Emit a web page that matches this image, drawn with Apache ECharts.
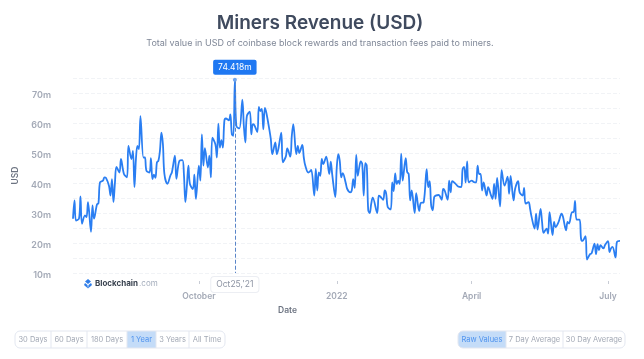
<!DOCTYPE html>
<html>
<head>
<meta charset="utf-8">
<title>Miners Revenue (USD)</title>
<script src="https://cdn.jsdelivr.net/npm/echarts@6/dist/echarts.min.js"></script>
<style>
    html, body { margin: 0; padding: 0; background: #fff; }
    #chart { width: 644px; height: 359px; }
</style>
</head>
<body>
<div id="chart"></div>
<script>
// days after 9 Jul 2021, values in millions of USD
const dayOffsets = [0,1,2,4,5,6,8,9,10,12,13,14,16,17,18,20,21,22,24,25,26,27,28,29,31,32,34,36,37,39,40,41,42,43,44,45,47,48,49,51,52,53,54,55,56,57,58,59,60,61,63,65,66,68,69,71,73,74,75,76,77,78,80,81,82,84,85,86,87,88,90,91,92,93,95,96,97,98,99,100,101,102,104,105,106,107,108,109,111,113,114,115,116,118,119,120,121,123,124,125,126,127,128,129,131,132,133,135,136,137,139,140,142,143,145,146,147,149,150,151,153,154,155,157,158,159,161,162,163,164,165,166,167,169,171,172,173,175,176,177,178,179,180,182,183,185,186,187,188,189,190,191,192,193,194,195,196,197,198,199,200,203,204,205,207,208,209,210,212,213,214,215,216,217,218,219,220,222,223,224,225,226,228,229,231,232,234,236,237,238,239,240,241,242,244,246,247,248,250,251,252,253,255,257,259,260,261,262,263,264,266,268,269,270,271,272,273,274,276,277,279,280,281,282,283,285,286,288,290,291,292,294,295,297,298,300,301,302,304,305,306,308,309,310,312,313,314,316,317,318,320,321,322,324,326,327,329,330,331,333,334,335,336,338,339,340,342,343,345,346,348,349,350,351,352,354,355,357,358,359,360,362,363,365];
const revenue = [28.1,34.2,27.5,28.1,35.5,26.4,29.2,28.6,33.6,23.7,32.5,28.1,32.8,33.3,40.2,40.8,41.9,41.7,39.1,35.8,41.3,33.6,40.2,45.4,43.5,48,43,41.9,52.4,48,50.7,38.6,48,52.4,51.3,62.3,48.5,48.5,44.1,43.5,48.3,41.3,42.8,41.7,46.9,47.4,50.7,56.8,52.9,43,39.7,42.5,43.6,49.1,41.4,47.4,47.6,43,33.6,39.1,45.8,39.7,38,42.8,34.7,45.8,40.8,56.2,45.8,51.6,45.2,49.1,41.9,55.1,52.9,48.5,59.8,51.8,54.3,51.8,60.7,61.5,60.9,62.9,56.2,55.7,74.418,59,58.2,67.8,59,53.5,62.3,63.8,56.2,59.6,59.3,57,65.4,64,64.7,57.9,65,63.4,57.9,54.6,49.6,53.5,49.6,51.3,56.8,46.9,48.8,51.5,48.8,55.7,59.6,49.6,52.4,50,52.7,48.5,45.8,43.5,43.8,44.4,35.8,44.7,37.5,43.5,42.4,48,46.3,48.8,43,47.1,42.7,35.3,45.2,49.6,47.4,41.9,43.3,40,38,36.9,37.5,41.3,38.4,49.4,42.4,45.2,47.2,46.3,35.8,46.6,45.8,30.9,30,33.1,35.1,30,35.8,35.5,34.4,37.5,36.4,32,31.2,40.2,37.3,43.2,39.7,40.8,39.7,49.8,40.8,48.3,43.6,43,34.2,37.5,30,36.6,30.6,33.3,33.6,44.6,38.6,40.6,32.5,30.9,35.3,35.8,36,34.4,38,37.5,34.4,40.8,36.9,40.6,39.9,38.8,38.6,44.7,45.4,40.2,47.2,40.2,40.8,40.2,40.2,45.8,43,43,37.5,40.2,35.8,38.6,35.8,34.7,39.7,34.7,41.7,32.2,44.3,39.1,42.1,36.4,42.4,34.2,38,40.6,36.9,35.8,38.4,33.1,33.6,31.4,28.7,24.8,29.8,24.5,31.4,27,23.4,24.8,23.1,30.3,22.6,27,25.3,27,29.8,28.7,24.2,27,26.5,30.3,30.3,34,27.8,27.8,21.5,20.7,22.3,14.5,16.3,16.5,19.8,16.3,19.6,17.6,19.3,18.2,19.3,20.6,17,18.2,18.7,15.2,20.4,20.7];
const peakDay = 108;
const peakValue = 74.418;
const tickDays = [84, 176, 266, 357];
const tickLabels = ['October', '2022', 'April', 'July'];
const rangeButtons = ['30 Days', '60 Days', '180 Days', '1 Year', '3 Years', 'All Time'];
const averageButtons = ['Raw Values', '7 Day Average', '30 Day Average'];

const font = 'Inter, "Noto Sans", sans-serif';
const seriesData = dayOffsets.map((d, i) => [d, revenue[i]]);

// row of buttons, the selected one gets the light blue fill
function buttonRow(labels, edges, selected) {
    let items = [];
    let top = 331, h = 17;
    let left = edges[0], right = edges[edges.length - 1];
    labels.forEach((label, i) => {
        let on = i === selected;
        if (on) {
            let r = [0, 0, 0, 0];
            if (i === 0) r = [5, 0, 0, 5];
            items.push({
                type: 'rect',
                shape: { x: edges[i], y: top, width: edges[i + 1] - edges[i], height: h, r: r },
                style: { fill: '#c4dcf8' }
            });
        }
        items.push({
            type: 'text',
            x: (edges[i] + edges[i + 1]) / 2,
            y: top + h / 2,
            style: {
                text: label,
                fill: on ? '#4f93ee' : '#a3a9b5',
                font: '7.5px ' + font,
                align: 'center',
                verticalAlign: 'middle'
            }
        });
        if (i > 0) {
            items.push({
                type: 'line',
                shape: { x1: edges[i], y1: top, x2: edges[i], y2: top + h },
                style: { stroke: '#e3e7f0', lineWidth: 1 }
            });
        }
    });
    items.push({
        type: 'rect',
        shape: { x: left, y: top, width: right - left, height: h, r: 5 },
        style: { fill: 'none', stroke: '#e3e7f0', lineWidth: 1 }
    });
    return items;
}

let logo = [
    { type: 'polygon', shape: { points: [[88, 279], [91, 281.5], [88, 284], [85, 281.5]] }, style: { fill: '#2f7de8' } },
    { type: 'polygon', shape: { points: [[85, 283], [87.5, 285], [88, 288.5], [84, 285]] }, style: { fill: '#2f7de8' } },
    { type: 'polygon', shape: { points: [[91, 283], [88.5, 285], [88, 288.5], [92, 285]] }, style: { fill: '#2f7de8' } },
    { type: 'text', x: 95, y: 284, style: { text: 'Blockchain', fill: '#39424f', font: 'bold 8px ' + font, verticalAlign: 'middle' } },
    { type: 'text', x: 139, y: 284, style: { text: '.com', fill: '#a3acbb', font: '8px ' + font, verticalAlign: 'middle' } }
];

let chart = echarts.init(document.getElementById('chart'));
chart.setOption({
    animation: false,
    title: {
        text: 'Miners Revenue (USD)',
        subtext: 'Total value in USD of coinbase block rewards and transaction fees paid to miners.',
        left: 315,
        top: 9,
        textAlign: 'center',
        itemGap: 6,
        textStyle: { fontFamily: font, fontSize: 19, fontWeight: 600, color: '#3f4a5e' },
        subtextStyle: { fontFamily: font, fontSize: 9, color: '#7f8797' }
    },
    grid: { left: 73, right: 24, top: 78, bottom: 86 },
    xAxis: {
        type: 'value',
        min: 0,
        max: 365,
        offset: 8,
        name: 'Date',
        nameLocation: 'middle',
        nameGap: 25,
        nameTextStyle: { fontFamily: font, fontSize: 8.5, fontWeight: 600, color: '#6d7482', padding: [0, 118, 0, 0] },
        axisLine: { show: false },
        axisTick: { show: true, customValues: tickDays, length: 3, lineStyle: { color: '#c8ccd5' } },
        axisLabel: {
            customValues: tickDays,
            margin: 11,
            fontFamily: font,
            fontSize: 8.5,
            fontWeight: 600,
            color: '#a3a9b6',
            formatter: value => tickLabels[tickDays.indexOf(value)]
        },
        splitLine: { show: false }
    },
    yAxis: {
        type: 'value',
        min: 10,
        max: 75,
        interval: 5,
        name: 'USD',
        nameLocation: 'middle',
        nameGap: 50,
        nameTextStyle: { fontFamily: font, fontSize: 8.5, fontWeight: 600, color: '#6d7482' },
        axisLine: { show: false },
        axisTick: { show: false },
        axisLabel: {
            margin: 22,
            verticalAlign: 'top',
            lineHeight: 4,
            fontFamily: font,
            fontSize: 9,
            fontWeight: 600,
            color: '#a3a9b6',
            formatter: value => (value % 10 === 0 ? value + 'm' : '')
        },
        splitLine: { lineStyle: { color: '#f1f3f6', type: 'dashed', width: 1 } }
    },
    series: [
        {
            type: 'line',
            data: seriesData,
            smooth: 0.35,
            showSymbol: false,
            lineStyle: { color: '#2a7ef2', width: 1.8 },
            markLine: {
                silent: true,
                symbol: 'none',
                label: { show: false },
                lineStyle: { color: '#5a85c8', type: 'dashed', width: 1 },
                data: [[{ coord: [peakDay, peakValue] }, { coord: [peakDay, 10] }]]
            },
            markPoint: {
                silent: true,
                data: [
                    {
                        coord: [peakDay, peakValue],
                        symbol: 'circle',
                        symbolSize: 4,
                        itemStyle: { color: '#6fa5ee' },
                        label: {
                            show: true,
                            position: 'top',
                            distance: 3,
                            formatter: peakValue + 'm',
                            backgroundColor: '#1f78f2',
                            borderRadius: 2,
                            padding: [3, 5],
                            color: '#fff',
                            fontFamily: font,
                            fontSize: 8.5
                        }
                    },
                    {
                        coord: [peakDay, 10],
                        symbol: 'circle',
                        symbolSize: 0,
                        label: {
                            show: true,
                            position: 'bottom',
                            distance: 4,
                            formatter: "Oct25,'21",
                            backgroundColor: '#fff',
                            borderColor: '#eceef3',
                            borderWidth: 1,
                            borderRadius: 3,
                            padding: [3, 5],
                            color: '#8d94a3',
                            fontFamily: font,
                            fontSize: 8.5
                        }
                    }
                ]
            }
        }
    ],
    graphic: logo
        .concat(buttonRow(rangeButtons, [15, 51, 87, 127, 156, 189, 225], 3))
        .concat(buttonRow(averageButtons, [458, 506, 563, 625], 0))
});
</script>
</body>
</html>
